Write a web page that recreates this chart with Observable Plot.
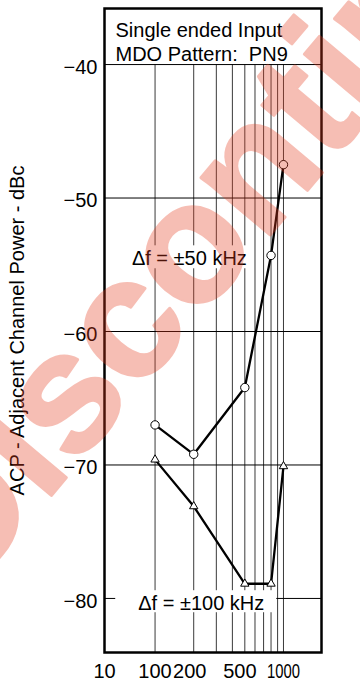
<!DOCTYPE html>
<html>
<head>
<meta charset="utf-8">
<script src="https://cdn.jsdelivr.net/npm/d3@7"></script>
<script src="https://cdn.jsdelivr.net/npm/@observablehq/plot@0.6"></script>
<style>
  html, body { margin: 0; padding: 0; background: #fff; }
  #chart svg { display: block; }
</style>
</head>
<body>
<div id="chart"></div>
<script>
// ---- data ----
const freq50 = [100, 200, 500, 800, 1000];
const acp50 = [-67.0, -69.2, -64.2, -54.3, -47.5];
const freq100 = [100, 200, 500, 800, 1000];
const acp100 = [-69.6, -73.1, -78.9, -78.9, -70.1];

const xDomain = [40.4, 1977];
const yDomain = [-84.05, -35.8];
const xGridValues = [100, 200, 300, 400, 500, 600, 700, 800, 900, 1000];
const xTickValues = [40.4, 100, 200, 500, 1000];
const xTickLabels = ["10", "100", "200", "500", "1000"];
const yTickValues = [-40, -50, -60, -70, -80];

const titleLines = ["Single ended Input", "MDO Pattern:\u00a0 PN9"];
const yLabel = "ACP - Adjacent Channel Power - dBc";
const annotLabels = ["\u0394f = \u00b150 kHz", "\u0394f = \u00b1100 kHz"];
const annotX = [185, 229];
const annotY = [-54.55, -80.4];
const annotBoxX1 = [60.2, 49.4];
const annotBoxX2 = [555.8, 887];
const annotBoxY1 = [-53.58, -79.42];
const annotBoxY2 = [-55.3, -81.07];
const watermark = "Discontinued";

// ---- tables built from the arrays ----
const s50 = freq50.map((f, i) => ({f, v: acp50[i]}));
const s100 = freq100.map((f, i) => ({f, v: acp100[i]}));
const annots = annotLabels.map((t, i) => ({
  t, x: annotX[i], y: annotY[i],
  x1: annotBoxX1[i], x2: annotBoxX2[i], y1: annotBoxY1[i], y2: annotBoxY2[i]
}));
const xTicks = xTickValues.map((v, i) => ({v, label: xTickLabels[i]}));
const yGridTop = Math.max(...yTickValues);

const font = "'Liberation Sans', Arial, Helvetica, sans-serif";
const tickText = {x: "v", text: "label", frameAnchor: "bottom", dy: 11, lineAnchor: "top", fontSize: 20};

const chart = Plot.plot({
  width: 360,
  height: 682,
  marginLeft: 104,
  marginRight: 39,
  marginTop: 8,
  marginBottom: 30,
  style: {fontFamily: font, fontSize: "20px", background: "#fff", color: "#000"},
  x: {type: "log", domain: xDomain, axis: null},
  y: {domain: yDomain, axis: null},
  marks: [
    Plot.ruleX(xGridValues, {x: d => d, y1: () => yDomain[0], y2: () => yGridTop, stroke: "#3a3a3a", strokeWidth: 1}),
    Plot.ruleY(yTickValues, {y: d => d, stroke: "#000", strokeWidth: 1}),
    Plot.axisY({ticks: yTickValues, tickSize: 0, tickPadding: 7, fontSize: 20, dy: 3, label: null}),
    Plot.text(xTicks, {...tickText, filter: d => d.v < 150}),
    Plot.text(xTicks, {...tickText, filter: d => d.v > 150 && d.v < 300, dx: -4}),
    Plot.text(xTicks, {...tickText, filter: d => d.v > 300 && d.v < 800, dx: -5}),
    Plot.text(xTicks, {...tickText, filter: d => d.v >= 800}),
    Plot.text([yLabel], {text: d => d, frameAnchor: "left", rotate: -90, dx: -81, lineAnchor: "bottom", textAnchor: "middle", fontSize: 20}),
    Plot.rect(annots, {x1: "x1", x2: "x2", y1: "y1", y2: "y2", fill: "#fff"}),
    Plot.text(annots, {x: "x", y: "y", text: "t", fontSize: 20, lineAnchor: "middle", fill: "#000"}),
    Plot.line(s50, {x: "f", y: "v", stroke: "#000", strokeWidth: 2.3}),
    Plot.line(s100, {x: "f", y: "v", stroke: "#000", strokeWidth: 2.3}),
    Plot.dot(s50, {x: "f", y: "v", symbol: "circle", r: 4.2, fill: "#fff", stroke: "#000", strokeWidth: 1}),
    Plot.dot(s100, {x: "f", y: "v", symbol: "triangle", r: 3.1, fill: "#fff", stroke: "#000", strokeWidth: 1}),
    Plot.frame({stroke: "#000", strokeWidth: 2.5}),
    Plot.text([titleLines.join("\n")], {text: d => d, frameAnchor: "top-left", dx: 11, dy: 12.4, lineAnchor: "top", textAnchor: "start", lineHeight: 1.165, fontSize: 20}),
    Plot.text([watermark], {text: d => d, frameAnchor: "bottom-left", dx: -139.6, dy: -53.9, rotate: -50, textAnchor: "start", lineAnchor: "bottom", fontSize: 170, fontWeight: "bold", fill: "#e63c1e", stroke: "#e63c1e", strokeWidth: 3, strokeLinejoin: "round", opacity: 0.33})
  ]
});
d3.select(chart).selectAll("text").filter(function () { return this.textContent === "1000"; })
  .attr("textLength", 33).attr("lengthAdjust", "spacingAndGlyphs");
document.getElementById("chart").appendChild(chart);
</script>
</body>
</html>
